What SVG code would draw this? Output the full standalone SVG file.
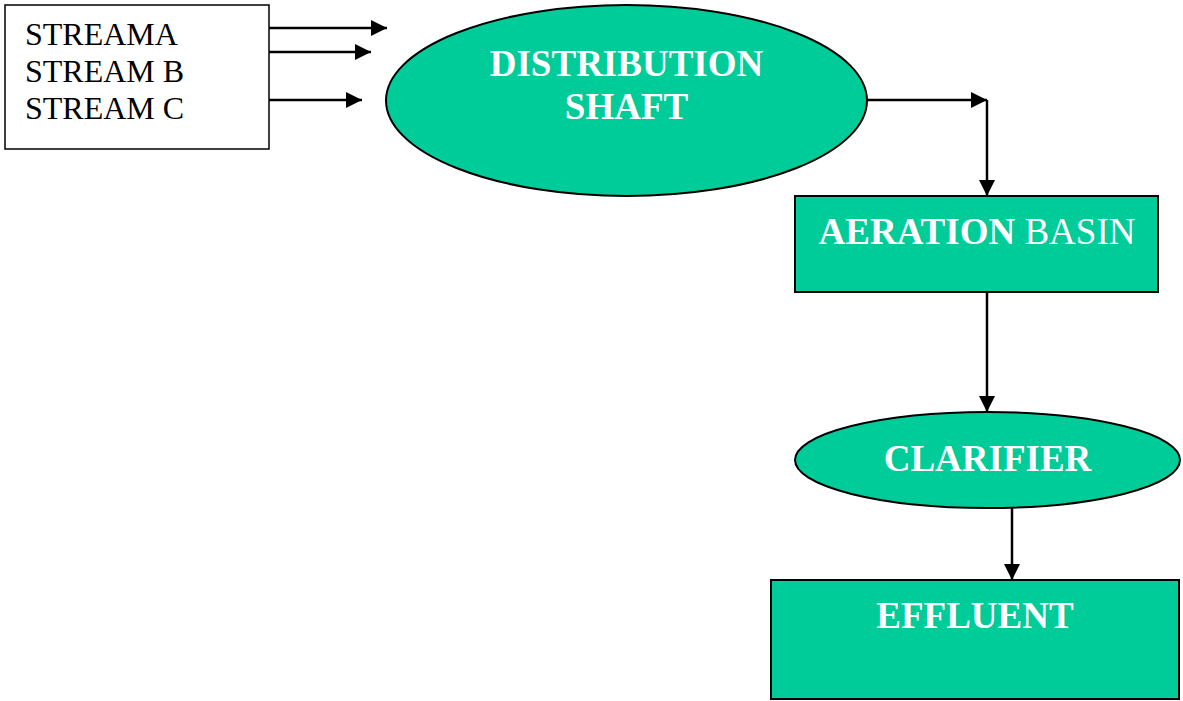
<svg xmlns="http://www.w3.org/2000/svg" width="1183" height="701" viewBox="0 0 1183 701">
<style>
.shape{fill:#00CC99;stroke:#000;stroke-width:2}
.lbl{font-family:"Liberation Serif","Times New Roman",serif;font-size:37px;font-weight:bold;fill:#fff;text-anchor:middle}
.reg{font-weight:normal}
.st{font-family:"Liberation Serif","Times New Roman",serif;font-size:32px;fill:#000}
.con{stroke:#000;stroke-width:2.5;fill:none}
</style>
<defs>
<marker id="ah" markerUnits="userSpaceOnUse" markerWidth="18" markerHeight="16" refX="16" refY="8" orient="auto">
<path d="M0,0 L16,8 L0,16 Z" fill="#000"/>
</marker>
</defs>
<rect width="1183" height="701" fill="#fff"/>
<g id="streams">
<rect x="5" y="5" width="264" height="144" fill="#fff" stroke="#000" stroke-width="1.5"/>
<text class="st" x="25" y="45">STREAMA</text>
<text class="st" x="25" y="82">STREAM B</text>
<text class="st" x="25" y="119">STREAM C</text>
</g>
<g id="distribution">
<ellipse class="shape" cx="626.5" cy="100.5" rx="240.5" ry="95.5"/>
<text class="lbl" x="626.5" y="76">DISTRIBUTION</text>
<text class="lbl" x="626.5" y="119">SHAFT</text>
</g>
<g id="aeration">
<rect class="shape" x="795" y="196" width="363" height="96"/>
<text class="lbl" x="977" y="244">AERATION <tspan class="reg">BASIN</tspan></text>
</g>
<g id="clarifier">
<ellipse class="shape" cx="987.5" cy="460" rx="192.5" ry="48"/>
<text class="lbl" x="987.5" y="471">CLARIFIER</text>
</g>
<g id="effluent">
<rect class="shape" x="771" y="580" width="408" height="119"/>
<text class="lbl" x="975" y="628">EFFLUENT</text>
</g>
<g id="connectors">
<line class="con" x1="269" y1="28" x2="387" y2="28" marker-end="url(#ah)"/>
<line class="con" x1="269" y1="52" x2="371" y2="52" marker-end="url(#ah)"/>
<line class="con" x1="269" y1="100" x2="362" y2="100" marker-end="url(#ah)"/>
<line class="con" x1="867" y1="100" x2="987" y2="100" marker-end="url(#ah)"/>
<line class="con" x1="987" y1="100" x2="987" y2="196" marker-end="url(#ah)"/>
<line class="con" x1="987" y1="292" x2="987" y2="412" marker-end="url(#ah)"/>
<line class="con" x1="1012" y1="508" x2="1012" y2="580" marker-end="url(#ah)"/>
</g>
</svg>
